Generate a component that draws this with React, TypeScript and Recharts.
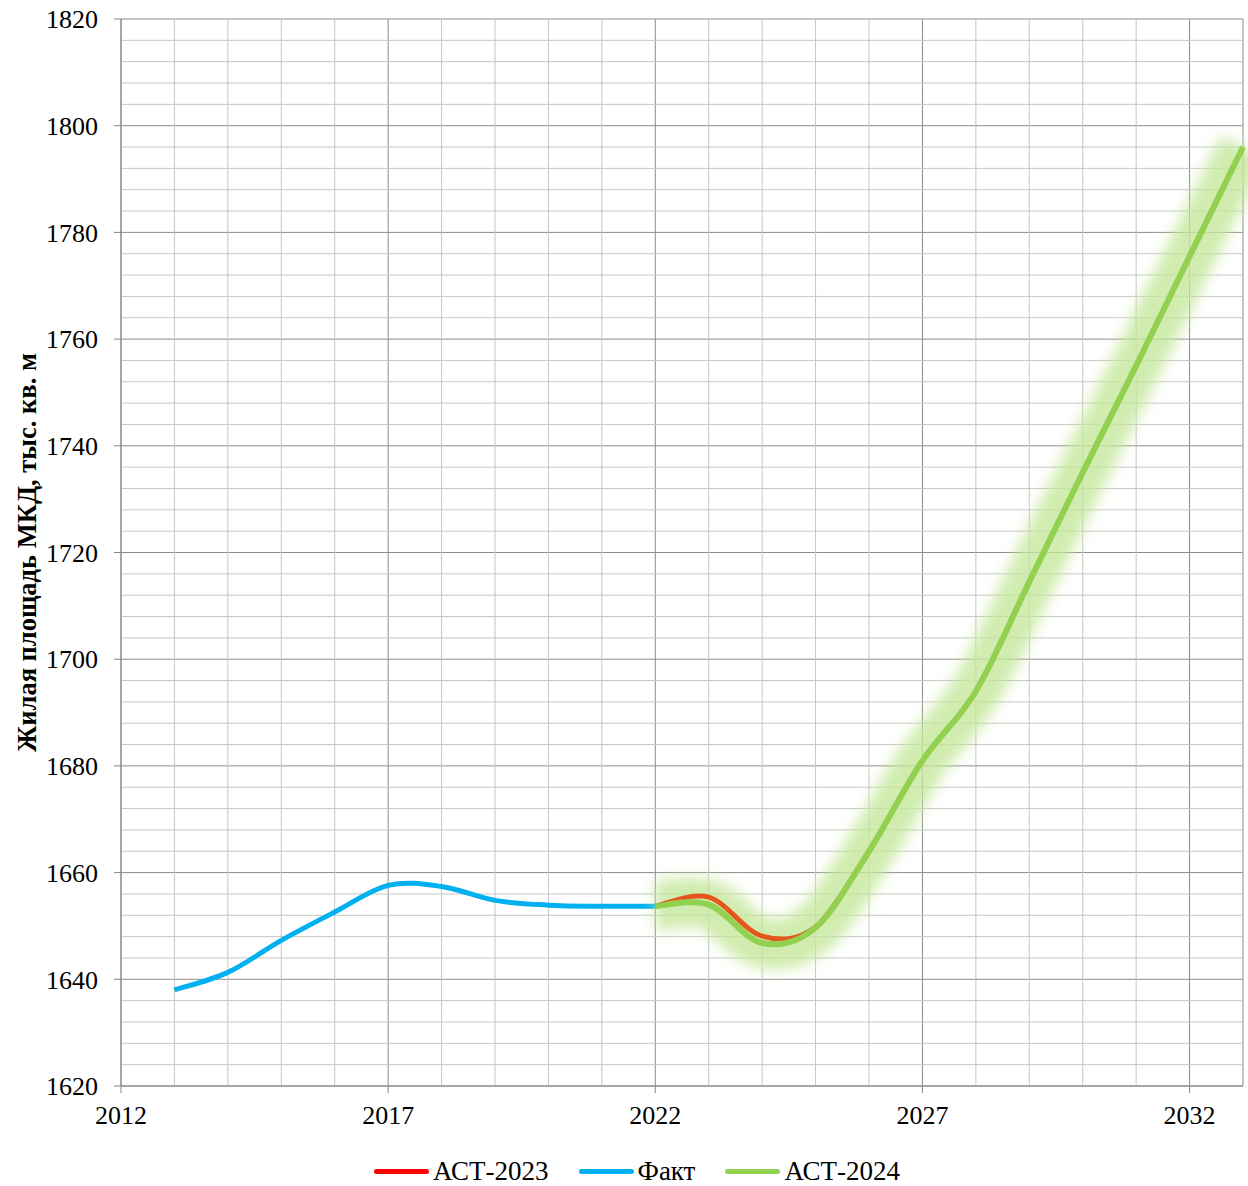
import { LineChart, Line, XAxis, YAxis, CartesianGrid, ReferenceLine, Legend } from "recharts";

const years = [2013, 2014, 2015, 2016, 2017, 2018, 2019, 2020, 2021, 2022, 2023, 2024, 2025, 2026, 2027, 2028, 2029, 2030, 2031, 2032, 2033];
const fact = [1638, 1641.3, 1647.3, 1652.6, 1657.6, 1657.4, 1654.8, 1653.9, 1653.7, 1653.7];
const act2023 = [1653.7, 1655.4, 1648.1, 1649.8, 1664];
const act2024 = [1653.7, 1654.0, 1646.8, 1649.7, 1664, 1681, 1694, 1714.5, 1735, 1755, 1775.5, 1796];

const xTicks = [2012, 2017, 2022, 2027, 2032];
const yTicks = [1620, 1640, 1660, 1680, 1700, 1720, 1740, 1760, 1780, 1800, 1820];
const minorYears = [2013, 2014, 2015, 2016, 2018, 2019, 2020, 2021, 2023, 2024, 2025, 2026, 2028, 2029, 2030, 2031, 2033];
const minorValues = yTicks.slice(0, -1).flatMap((v) => [v + 4, v + 8, v + 12, v + 16]);

const data = years.map((year, i) => ({
  year,
  fact: fact[i],
  act2023: i >= 9 ? act2023[i - 9] : undefined,
  act2024: i >= 9 ? act2024[i - 9] : undefined,
}));

const legendItems = [
  { name: "АСТ-2023", color: "#ff0000" },
  { name: "Факт", color: "#00b0f0" },
  { name: "АСТ-2024", color: "#92d050" },
];

// Excel-like smoothed line (Catmull-Rom through the points)
const excelCurve = (context: any) => {
  let pts: number[][] = [];
  return {
    areaStart() {},
    areaEnd() {},
    lineStart() {
      pts = [];
    },
    lineEnd() {
      const n = pts.length;
      if (!n) return;
      context.moveTo(pts[0][0], pts[0][1]);
      for (let i = 0; i < n - 1; i++) {
        const p0 = pts[i - 1] || pts[i];
        const p1 = pts[i];
        const p2 = pts[i + 1];
        const p3 = pts[i + 2] || p2;
        context.bezierCurveTo(
          p1[0] + (p2[0] - p0[0]) / 6,
          p1[1] + (p2[1] - p0[1]) / 6,
          p2[0] - (p3[0] - p1[0]) / 6,
          p2[1] - (p3[1] - p1[1]) / 6,
          p2[0],
          p2[1]
        );
      }
    },
    point(x: number, y: number) {
      pts.push([+x, +y]);
    },
  };
};

const font = "'Liberation Serif', 'Times New Roman', serif";
const tickStyle = { fill: "#000", fontSize: 26, fontFamily: font };

const renderLegend = () => (
  <div style={{ height: 50, display: "flex", justifyContent: "center", alignItems: "center", paddingTop: 20, paddingLeft: 31, boxSizing: "border-box", fontFamily: font, fontSize: 27, color: "#000" }}>
    {legendItems.map((it, i) => (
      <div key={it.name} style={{ display: "flex", alignItems: "center", marginRight: i < legendItems.length - 1 ? 30 : 0 }}>
        <span style={{ width: 55, height: 5, borderRadius: 3, background: it.color, marginRight: 4 }} />
        <span>{it.name}</span>
      </div>
    ))}
  </div>
);

export default function App() {
  return (
    <div style={{ position: "absolute", left: 0, top: 0, background: "#fff" }}>
      <LineChart width={1248} height={1186} data={data} margin={{ top: 19, right: 5, bottom: 0, left: 0 }}>
        <defs>
          <filter id="glow" x="-30%" y="-30%" width="160%" height="160%">
            <feGaussianBlur stdDeviation="7" />
          </filter>
        </defs>
        <CartesianGrid stroke="#8c8c8c" strokeWidth={1} />
        {minorYears.map((y) => (
          <ReferenceLine key={"x" + y} x={y} stroke="#c6c6c6" strokeWidth={1} />
        ))}
        {minorValues.map((v) => (
          <ReferenceLine key={"y" + v} y={v} stroke="#c6c6c6" strokeWidth={1} />
        ))}
        <XAxis
          dataKey="year"
          type="number"
          domain={[2012, 2033]}
          ticks={xTicks}
          height={50}
          tickSize={7}
          tickMargin={13}
          tick={tickStyle}
          stroke="#868686"
          interval={0}
        />
        <YAxis
          type="number"
          domain={[1620, 1820]}
          ticks={yTicks}
          width={121}
          tickSize={7}
          tickMargin={16}
          tick={tickStyle}
          stroke="#868686"
          interval={0}
          label={{
            content: ({ viewBox }: any) => (
              <text
                x={27}
                y={viewBox.y + viewBox.height / 2}
                transform={`rotate(-90 27 ${viewBox.y + viewBox.height / 2})`}
                textAnchor="middle"
                dominantBaseline="central"
                fontFamily={font}
                fontSize={26.5}
                fontWeight="bold"
                fill="#000"
              >
                Жилая площадь МКД, тыс. кв. м
              </text>
            ),
          }}
        />
        <Legend verticalAlign="bottom" height={50} content={renderLegend} />
        <Line dataKey="fact" type={excelCurve as any} stroke="#00b0f0" strokeWidth={5} dot={false} isAnimationActive={false} />
        <Line
          dataKey="act2024"
          type={excelCurve as any}
          stroke="#c4e79a"
          strokeOpacity={0.8}
          strokeWidth={50}
          filter="url(#glow)"
          dot={false}
          activeDot={false}
          legendType="none"
          isAnimationActive={false}
        />
        <Line dataKey="act2023" type={excelCurve as any} stroke="#e4561c" strokeWidth={5} dot={false} isAnimationActive={false} />
        <Line dataKey="act2024" type={excelCurve as any} stroke="#92d050" strokeWidth={6} dot={false} isAnimationActive={false} />
      </LineChart>
    </div>
  );
}
